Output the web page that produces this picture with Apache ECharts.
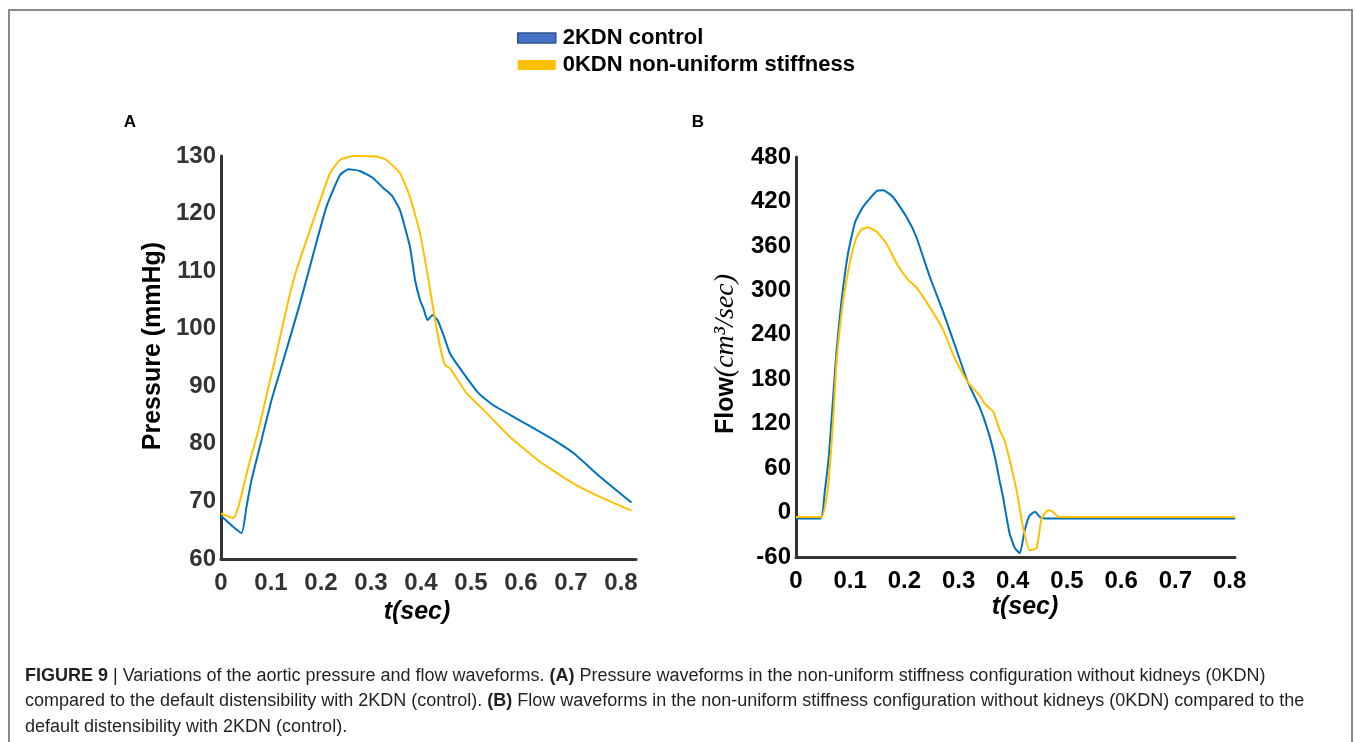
<!DOCTYPE html>
<html>
<head>
<meta charset="utf-8">
<script src="https://cdn.jsdelivr.net/npm/echarts@6/dist/echarts.min.js"></script>
<style>
  html, body { margin: 0; padding: 0; background: #fff; }
  #chart { width: 1355px; height: 742px; }
</style>
</head>
<body>
<div id="chart"></div>
<script>
// ---- Data ----
const seriesNames = ['2KDN control', '0KDN non-uniform stiffness'];

// Panel A: aortic pressure (mmHg) vs t (sec)
const timeA_control = [0, 0.041, 0.051, 0.061, 0.071, 0.101, 0.125, 0.158, 0.185, 0.211, 0.238, 0.255, 0.278, 0.305, 0.325, 0.341, 0.358, 0.378, 0.388, 0.398, 0.405, 0.413, 0.423, 0.433, 0.445, 0.458, 0.478, 0.515, 0.545, 0.591, 0.638, 0.671, 0.705, 0.758, 0.821];
const pressure_control = [67.5, 64.5, 69.1, 73.7, 77.2, 87.6, 94.6, 104.4, 113.1, 121.2, 126.7, 127.7, 127.4, 126.1, 124.4, 123.2, 120.6, 114.2, 108.5, 105.0, 103.5, 101.5, 102.4, 101.5, 98.9, 95.7, 93.1, 88.8, 86.7, 84.4, 82.1, 80.4, 78.4, 74.3, 69.8];
const timeA_stiff = [0, 0.025, 0.035, 0.045, 0.055, 0.075, 0.095, 0.108, 0.135, 0.151, 0.185, 0.218, 0.238, 0.265, 0.311, 0.331, 0.358, 0.378, 0.398, 0.415, 0.425, 0.438, 0.448, 0.458, 0.491, 0.525, 0.578, 0.638, 0.705, 0.758, 0.821];
const pressure_stiff = [67.9, 67.1, 69.1, 72.6, 76.1, 82.4, 89.9, 94.6, 105.0, 110.2, 118.9, 127.0, 129.3, 130.0, 129.9, 129.3, 127.0, 122.9, 116.6, 108.5, 103.2, 96.9, 93.7, 93.1, 88.8, 85.9, 81.2, 76.9, 73.1, 70.8, 68.4];

// Panel B: aortic flow (cm^3/sec) vs t (sec)
const timeB_control = [0, 0.0455, 0.053, 0.061, 0.068, 0.075, 0.084, 0.096, 0.109, 0.124, 0.149, 0.161, 0.179, 0.204, 0.222, 0.247, 0.272, 0.295, 0.317, 0.339, 0.354, 0.367, 0.376, 0.382, 0.394, 0.404, 0.413, 0.422, 0.431, 0.441, 0.450, 0.459, 0.81];
const flow_control = [-8, -8, 28, 80, 150, 220, 286, 350, 392, 413, 434, 435, 426, 399, 372, 318, 270, 222, 176, 142, 111, 75, 42, 21, -28, -48, -55, -24, -4, 1, -6, -8, -8];
const timeB_stiff = [0, 0.047, 0.057, 0.063, 0.070, 0.075, 0.087, 0.100, 0.112, 0.121, 0.132, 0.149, 0.167, 0.186, 0.207, 0.222, 0.247, 0.272, 0.293, 0.317, 0.339, 0.348, 0.364, 0.376, 0.385, 0.407, 0.419, 0.431, 0.444, 0.453, 0.465, 0.474, 0.484, 0.81];
const flow_stiff = [-6, -6, 23, 66, 142, 205, 286, 340, 372, 382, 385, 379, 363, 336, 314, 304, 277, 246, 208, 176, 158, 147, 136, 111, 97, 30, -20, -51, -48, -8, 3, 1, -6, -6];

// Axis ranges / titles / captions
const pressureAxis = { min: 60, max: 130, interval: 10 };
const flowAxis = { min: -60, max: 480, interval: 60 };
const timeAxisA = { min: 0, max: 0.83, interval: 0.1 };
const timeAxisB = { min: 0, max: 0.81, interval: 0.1 };
const captionLines = [
  '{b|FIGURE 9} | Variations of the aortic pressure and flow waveforms. {b|(A)} Pressure waveforms in the non-uniform stiffness configuration without kidneys (0KDN)',
  'compared to the default distensibility with 2KDN (control). {b|(B)} Flow waveforms in the non-uniform stiffness configuration without kidneys (0KDN) compared to the',
  'default distensibility with 2KDN (control).'
];

// ---- Chart ----
const zip = (xs, ys) => xs.map((x, i) => [x, ys[i]]);
const BLUE = '#0072bd', YELLOW = '#ffc000';
const SANS = '"Liberation Sans", Arial, sans-serif';

function tickFmt(v) {
  const r = Math.round(v * 10) / 10;
  if (Math.abs(v - r) > 1e-6) return '';
  return r === 0 ? '0' : r.toFixed(1);
}

function xAxisCfg(gridIndex, rng, color) {
  return {
    type: 'value', gridIndex, min: rng.min, max: rng.max, interval: rng.interval,
    axisLine: { show: true, onZero: false, lineStyle: { color: '#333', width: 3 } },
    axisTick: { show: false }, splitLine: { show: false },
    axisLabel: { formatter: tickFmt, margin: 12, color, fontFamily: SANS, fontWeight: 'bold', fontSize: 24 }
  };
}
function yAxisCfg(gridIndex, rng, color) {
  return {
    type: 'value', gridIndex, min: rng.min, max: rng.max, interval: rng.interval,
    axisLine: { show: true, onZero: false, lineStyle: { color: '#333', width: 3 } },
    axisTick: { show: false }, splitLine: { show: false },
    axisLabel: { margin: 5, color, fontFamily: SANS, fontWeight: 'bold', fontSize: 24 }
  };
}
function lineSeries(name, xi, data, color) {
  return {
    name, type: 'line', xAxisIndex: xi, yAxisIndex: xi, data,
    showSymbol: false, symbol: 'none', smooth: 0.15,
    lineStyle: { color, width: 2 }, itemStyle: { color }, z: 3
  };
}

const chart = echarts.init(document.getElementById('chart'), null, { renderer: 'canvas' });
chart.setOption({
  animation: false,
  backgroundColor: '#fff',
  legend: {
    orient: 'vertical', left: 517, top: 27, padding: 0, itemWidth: 38, itemHeight: 10, itemGap: 5,
    textStyle: { fontFamily: SANS, fontWeight: 'bold', fontSize: 22, color: '#000', padding: [0, 0, 0, 2] },
    data: [
      { name: seriesNames[0], icon: 'rect', itemStyle: { color: '#4472c4', borderColor: '#2f528f', borderWidth: 1.5 } },
      { name: seriesNames[1], icon: 'rect', itemStyle: { color: '#ffc000', borderWidth: 0 } }
    ]
  },
  grid: [
    { left: 221, top: 156, width: 415, height: 403 },
    { left: 796, top: 157, width: 439, height: 400 }
  ],
  xAxis: [xAxisCfg(0, timeAxisA, '#333'), xAxisCfg(1, timeAxisB, '#000')],
  yAxis: [yAxisCfg(0, pressureAxis, '#333'), yAxisCfg(1, flowAxis, '#000')],
  series: [
    lineSeries(seriesNames[0], 0, zip(timeA_control, pressure_control), BLUE),
    lineSeries(seriesNames[1], 0, zip(timeA_stiff, pressure_stiff), YELLOW),
    lineSeries(seriesNames[0], 1, zip(timeB_control, flow_control), BLUE),
    lineSeries(seriesNames[1], 1, zip(timeB_stiff, flow_stiff), YELLOW)
  ],
  graphic: [
    { type: 'polyline', shape: { points: [[9, 742], [9, 10], [1352, 10], [1352, 742]] }, style: { stroke: '#8a8a8a', lineWidth: 2, fill: null }, silent: true },
    { type: 'text', x: 130, y: 122, style: { text: 'A', font: 'bold 17px ' + SANS, fill: '#000', align: 'center', verticalAlign: 'middle', textAlign: 'center', textVerticalAlign: 'middle' } },
    { type: 'text', x: 698, y: 122, style: { text: 'B', font: 'bold 17px ' + SANS, fill: '#000', align: 'center', verticalAlign: 'middle', textAlign: 'center', textVerticalAlign: 'middle' } },
    { type: 'text', x: 153, y: 346, rotation: Math.PI / 2, style: { text: 'Pressure (mmHg)', font: 'bold 25px ' + SANS, fill: '#000', align: 'center', verticalAlign: 'middle', textAlign: 'center', textVerticalAlign: 'middle' } },
    { type: 'text', x: 417, y: 612, style: { text: 't(sec)', font: 'italic bold 25px ' + SANS, fill: '#000', align: 'center', verticalAlign: 'middle', textAlign: 'center', textVerticalAlign: 'middle' } },
    { type: 'text', x: 1025, y: 607, style: { text: 't(sec)', font: 'italic bold 25px ' + SANS, fill: '#000', align: 'center', verticalAlign: 'middle', textAlign: 'center', textVerticalAlign: 'middle' } },
    { type: 'text', x: 726, y: 354, rotation: Math.PI / 2, style: {
        text: '{f|Flow}{m|(cm³/sec)}', align: 'center', verticalAlign: 'middle', textAlign: 'center', textVerticalAlign: 'middle',
        font: 'bold 25px ' + SANS, fill: '#000',
        rich: {
          f: { fontFamily: SANS, fontWeight: 'bold', fontSize: 25, fill: '#000' },
          m: { fontFamily: '"Liberation Serif", "DejaVu Serif", serif', fontStyle: 'italic', fontSize: 28, fill: '#000' }
        } } },
    ...captionLines.map((t, i) => ({
      type: 'text', x: 25, y: 676 + i * 25.5,
      style: {
        text: t, font: '18px ' + SANS, fill: '#231f20', align: 'left', verticalAlign: 'middle', textAlign: 'left', textVerticalAlign: 'middle',
        rich: { b: { fontFamily: SANS, fontWeight: 'bold', fontSize: 18, fill: '#231f20' } }
      }
    }))
  ]
});
</script>
</body>
</html>
